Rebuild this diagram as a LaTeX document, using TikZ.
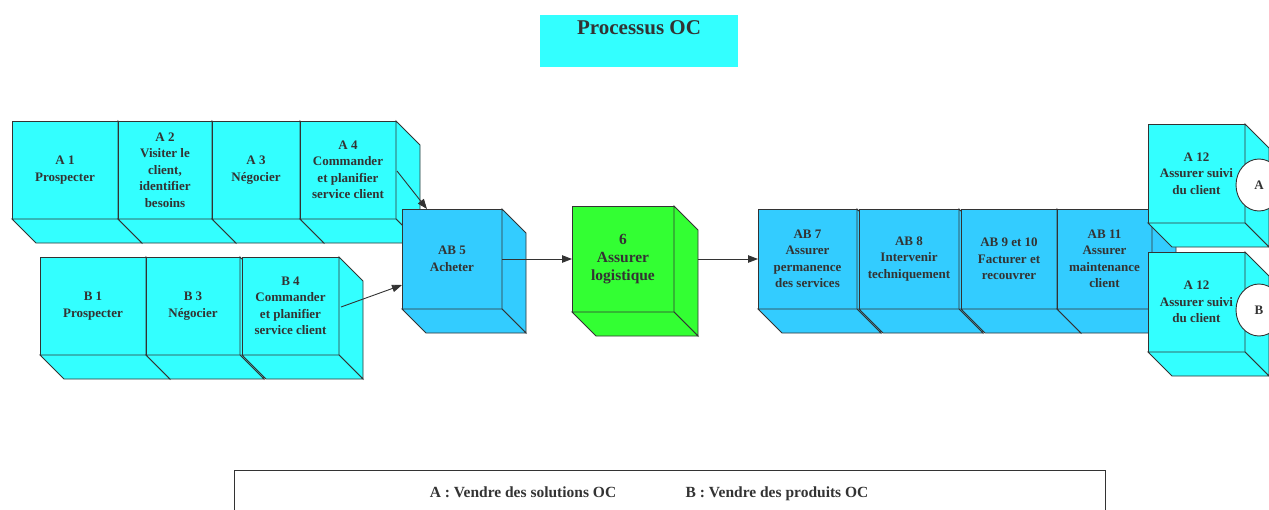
\documentclass[tikz,border=0pt]{standalone}
\usepackage{fontspec}
\setmainfont{Liberation Serif}
\usetikzlibrary{arrows.meta,calc,shapes.geometric}
\definecolor{cyanbox}{HTML}{33FFFF}
\definecolor{bluebox}{HTML}{33CCFF}
\definecolor{greenbox}{HTML}{33FF33}
\definecolor{ink}{HTML}{333333}
\tikzset{
  front/.style={draw=ink, line width=0.9pt, inner sep=0pt, outer sep=0pt, align=center, text=ink,
    font={\fontsize{13}{16.5}\selectfont\bfseries}},
  bigfront/.style={font={\fontsize{15.5}{18}\selectfont\bfseries}},
  face/.style={draw=ink, line width=0.9pt, line join=miter},
  conn/.style={draw=ink, line width=0.9pt, -{Triangle[length=10pt,width=7.5pt]}},
  tag/.style={ellipse, draw=ink, fill=white, line width=0.9pt, inner sep=0pt, minimum width=46pt, minimum height=52pt, text=ink,
    font={\fontsize{13}{16}\selectfont\bfseries}},
  legendtxt/.style={text=ink, inner sep=0pt, anchor=base, font={\fontsize{15.5}{18}\selectfont\bfseries}}
}
\newcommand\cubebox[7]{%
  \node[front, fill=#6, minimum width={(#4)-(#2)}, minimum height={(#5)-(#3)}] (#1) at ({((#2)+(#4))/2},{((#3)+(#5))/2}) {#7};
  \filldraw[face, fill=#6] (#1.north east) -- ++(24,24) -- ++(0,{(#5)-(#3)}) -- (#1.south east) -- cycle;
  \filldraw[face, fill=#6] (#1.south west) -- (#1.south east) -- ++(24,24) -- ++({(#2)-(#4)},0) -- cycle;
}
\begin{document}
\begin{tikzpicture}[x=1pt,y=-1pt]
\useasboundingbox (0,0) rectangle (1269,509);
% title
\node[fill=cyanbox, inner sep=0pt, minimum width=198pt, minimum height=52pt] (title) at (639,41) {};
\node[text=ink, inner sep=0pt, font={\fontsize{21}{24}\selectfont\bfseries}] (titletext) at (639,28) {Processus OC};
% A row
\cubebox{A1}{12}{121}{118}{219}{cyanbox}{A 1\\Prospecter}
\cubebox{A2}{118}{121}{212}{219}{cyanbox}{A 2\\Visiter le\\client,\\identifier\\besoins}
\cubebox{A3}{212}{121}{300}{219}{cyanbox}{A 3\\Négocier}
\cubebox{A4}{300}{121}{396}{219}{cyanbox}{A 4\\Commander\\et planifier\\service client}
% B row
\cubebox{B1}{40}{257}{146}{355}{cyanbox}{B 1\\Prospecter}
\cubebox{B3}{146}{257}{240}{355}{cyanbox}{B 3\\Négocier}
\cubebox{B4}{242}{257}{339}{355}{cyanbox}{B 4\\Commander\\et planifier\\service client}
% AB5
\cubebox{AB5}{402}{209}{502}{309}{bluebox}{AB 5\\Acheter}
% 6
\cubebox{six}{572}{206}{674}{312}{greenbox, bigfront}{6\\Assurer\\logistique}
% AB7 - AB11
\cubebox{AB7}{758}{209}{857}{309}{bluebox}{AB 7\\Assurer\\permanence\\des services}
\cubebox{AB8}{859}{209}{959}{309}{bluebox}{AB 8\\Intervenir\\techniquement}
\cubebox{AB9}{961}{209}{1057}{309}{bluebox}{AB 9 et 10\\Facturer et\\recouvrer}
\cubebox{AB11}{1057}{209}{1152}{309}{bluebox}{AB 11\\Assurer\\maintenance\\client}
% A12 boxes
\cubebox{A12a}{1148}{124}{1245}{223}{cyanbox}{A 12\\Assurer suivi\\du client}
\node[tag] (tagA) at (1259,185) {A};
\cubebox{A12b}{1148}{252}{1245}{352}{cyanbox}{A 12\\Assurer suivi\\du client}
\node[tag] (tagB) at (1259,310) {B};
% connectors
\coordinate (a4out) at ($(A4.east)+(1,1)$);
\coordinate (ab5top) at ($(AB5.north west)+(25,0)$);
\draw[conn] (a4out) -- (ab5top);
\coordinate (b4out) at ($(B4.east)+(2,1)$);
\coordinate (ab5left) at ($(AB5.west)+(0,26)$);
\draw[conn] (b4out) -- (ab5left);
\draw[conn] (AB5.east) -- (six.west);
\coordinate (sixout) at ($(six.east)+(24,0)$);
\draw[conn] (sixout) -- (AB7.west);
% legend
\draw[draw=ink, line width=0.8pt] (234,515) coordinate (lgbl) -- (234,470) coordinate (lgtl) -- (1105,470) coordinate (lgtr) -- (1105,515) coordinate (lgbr);
\node[legendtxt] (legA) at (523,497) {A : Vendre des solutions OC};
\node[legendtxt] (legB) at (777,497) {B : Vendre des produits OC};
\end{tikzpicture}
\end{document}
